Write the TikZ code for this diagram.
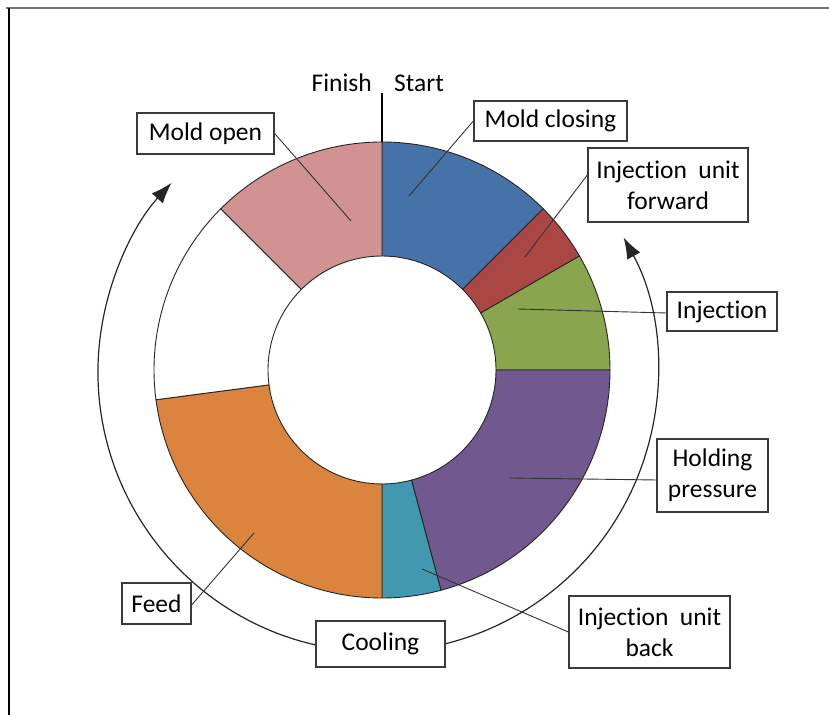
\documentclass[tikz,border=0pt]{standalone}
\usepackage{fontspec}
\setmainfont[Ligatures=NoCommon]{Carlito}
\usetikzlibrary{calc,arrows.meta}

% chart palette
\definecolor{segblue}{HTML}{4572A7}
\definecolor{segred}{HTML}{AA4643}
\definecolor{seggreen}{HTML}{89A54E}
\definecolor{segpurple}{HTML}{71588F}
\definecolor{segteal}{HTML}{4198AF}
\definecolor{segorange}{HTML}{DB843D}
\definecolor{segpink}{HTML}{D19392}
\definecolor{boxline}{HTML}{3A3A3A}

\tikzset{
  lbl/.style={draw=boxline, line width=1.3bp, fill=white, align=center,
    inner sep=0pt, font=\fontsize{25.5bp}{31bp}\selectfont},
  leader/.style={draw=black!80, line width=0.9bp},
  ringline/.style={draw=black!85, line width=0.9bp},
  cyclearrow/.style={draw=black!85, line width=1.2bp,
    -{Latex[length=21bp,width=15bp]}},
  plain/.style={inner sep=0pt, font=\fontsize{25.5bp}{31bp}\selectfont}
}

% one piece of the ring between two angles
\newcommand\ringpiece[3]{%
  \filldraw[ringline, fill=#3]
    ($(C)+(#1:\Rout)$) arc[start angle=#1, end angle=#2, radius=\Rout]
    -- ($(C)+(#2:\Rin)$) arc[start angle=#2, end angle=#1, radius=\Rin]
    -- cycle;}

\begin{document}
\begin{tikzpicture}[x=1bp, y=1bp]
\useasboundingbox (0,0) rectangle (829,715);

% page frame
\draw[black!55, line width=2bp] (6,707) -- (829,707);
\draw[black, line width=2bp] (9,707) -- (9,0);

\def\Rout{228}
\def\Rin{114}
\coordinate (C) at (382,345);
\coordinate (A) at (378,343);

% ring of the cycle
\ringpiece{90}{45}{segblue}
\ringpiece{45}{30}{segred}
\ringpiece{30}{0}{seggreen}
\ringpiece{0}{-75}{segpurple}
\ringpiece{-75}{-90}{segteal}
\ringpiece{-90}{-172.5}{segorange}
\ringpiece{187.5}{135}{white}
\ringpiece{135}{90}{segpink}

% start / finish mark
\coordinate (top) at (382,622);
\draw[black, line width=1.1bp] (top) -- ($(C)+(90:\Rout)$);
\node[plain, anchor=base east] (finish) at (372,623) {Finish};
\node[plain, anchor=base west] (start) at (394,623) {Start};

% direction arrows round the ring
\draw[cyclearrow] ($(A)+(261:280)$) arc[start angle=261, end angle=137.5, radius=280];
\draw[cyclearrow] ($(A)+(-81:280)$) arc[start angle=-81, end angle=28.7, radius=280];

% points the labels refer to
\coordinate (pmo) at (351,494);
\coordinate (pmc) at (409,519);
\coordinate (piuf) at (525,458);
\coordinate (pinj) at (518,406);
\coordinate (php) at (510,237);
\coordinate (piub) at (422,146);
\coordinate (pfeed) at (254,182);

% labels
\node[lbl, minimum width=137bp, minimum height=41bp] (mo) at (205.5,581.5) {Mold open};
\node[lbl, minimum width=153bp, minimum height=40bp] (mc) at (550.5,594) {Mold closing};
\node[lbl, minimum width=160bp, minimum height=74bp] (iuf) at (668,530) {Injection\ \ unit\\forward};
\node[lbl, minimum width=110bp, minimum height=39bp] (inj) at (722,403.5) {Injection};
\node[lbl, minimum width=111bp, minimum height=73bp] (hp) at (712.5,239.5) {Holding\\pressure};
\node[lbl, minimum width=161bp, minimum height=72bp] (iub) at (649.5,83) {Injection\ \ unit\\back};
\node[lbl, minimum width=129bp, minimum height=46bp] (cool) at (380.5,71) {Cooling};
\node[lbl, minimum width=69bp, minimum height=41bp] (feed) at (156.5,111.5) {Feed};

% leader lines
\draw[leader] (mo.east) -- (pmo);
\draw[leader] (mc.west) -- (pmc);
\draw[leader] ([yshift=10bp]iuf.west) -- (piuf);
\draw[leader] ([yshift=-1.5bp]inj.west) -- (pinj);
\draw[leader] ([yshift=-4.5bp]hp.west) -- (php);
\draw[leader] (iub.west) -- (piub);
\draw[leader] ([yshift=-1.5bp]feed.east) -- (pfeed);
\end{tikzpicture}
\end{document}
